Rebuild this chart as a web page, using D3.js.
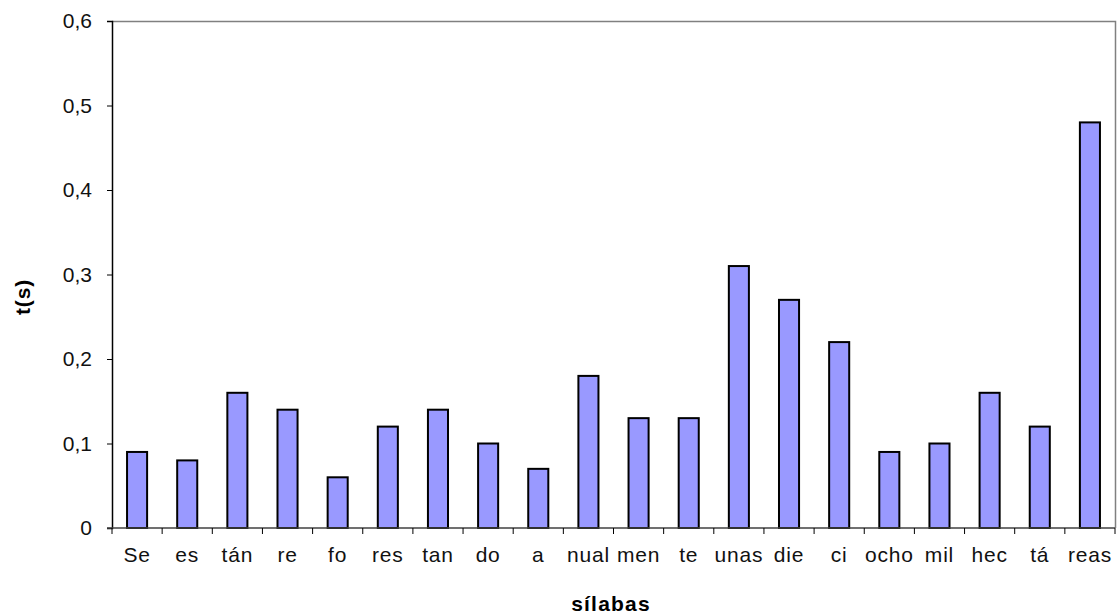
<!DOCTYPE html>
<html>
<head>
<meta charset="utf-8">
<script src="https://cdn.jsdelivr.net/npm/d3@7"></script>
<style>
  body { margin: 0; background: #fff; }
  text { font-family: "Liberation Sans", Arial, sans-serif; fill: #000; }
</style>
</head>
<body>
<svg id="chart" width="1117" height="614"></svg>
<script>
var silabas = ["Se", "es", "tán", "re", "fo", "res", "tan", "do", "a", "nual",
               "men", "te", "unas", "die", "ci", "ocho", "mil", "hec", "tá", "reas"];
var tiempos = [0.09, 0.08, 0.16, 0.14, 0.06, 0.12, 0.14, 0.10, 0.07, 0.18,
               0.13, 0.13, 0.31, 0.27, 0.22, 0.09, 0.10, 0.16, 0.12, 0.48];
var yTicks = [0, 0.1, 0.2, 0.3, 0.4, 0.5, 0.6];

var svg = d3.select("#chart"),
    margin = {top: 21, right: 2, bottom: 86, left: 112},
    width = +svg.attr("width") - margin.left - margin.right,
    height = +svg.attr("height") - margin.top - margin.bottom;

var x = d3.scaleBand()
    .domain(silabas)
    .range([0, width])
    .paddingInner(0.6)
    .paddingOuter(0.3);

var y = d3.scaleLinear()
    .domain([0, 0.6])
    .range([height, 0]);

var g = svg.append("g")
    .attr("transform", "translate(" + margin.left + "," + margin.top + ")");

// frame top + right
g.append("path")
    .attr("d", "M0,0.5H" + (width + 0.5) + "V" + height)
    .attr("fill", "none")
    .attr("stroke", "#808080")
    .attr("stroke-width", 1.5);

g.selectAll("rect.bar")
  .data(tiempos)
  .enter().append("rect")
    .attr("class", "bar")
    .attr("x", function(d, i) { return x(silabas[i]); })
    .attr("y", function(d) { return y(d); })
    .attr("width", x.bandwidth())
    .attr("height", function(d) { return height - y(d); })
    .attr("fill", "#9999ff")
    .attr("stroke", "#000")
    .attr("stroke-width", 2);

// y axis
var yAxis = g.append("g")
    .call(d3.axisLeft(y).tickValues(yTicks).tickSize(5).tickPadding(15)
      .tickFormat(function(d) { return d === 0 ? "0" : d3.format(".1f")(d).replace(".", ","); }));
yAxis.select(".domain").attr("stroke", "#000").attr("stroke-width", 1.5);
yAxis.selectAll(".tick line").attr("stroke", "#000");
yAxis.selectAll("text").style("font-size", "21px").style("fill", "#111");

// x axis: baseline + ticks at category boundaries
g.append("line")
    .attr("x1", -5).attr("x2", width)
    .attr("y1", height).attr("y2", height)
    .attr("stroke", "#404040").attr("stroke-width", 1.5);

var step = x.step();
g.selectAll("line.xtick")
  .data(d3.range(silabas.length + 1))
  .enter().append("line")
    .attr("class", "xtick")
    .attr("x1", function(i) { return x(silabas[0]) - x.step() * x.paddingOuter() + i * step; })
    .attr("x2", function(i) { return x(silabas[0]) - x.step() * x.paddingOuter() + i * step; })
    .attr("y1", height)
    .attr("y2", height + 6)
    .attr("stroke", "#000");

g.selectAll("text.xlab")
  .data(silabas)
  .enter().append("text")
    .attr("class", "xlab")
    .attr("x", function(d) { return x(d) + x.bandwidth() / 2; })
    .attr("y", height + 34)
    .attr("text-anchor", "middle")
    .style("font-size", "21px")
    .style("letter-spacing", "0.8px")
    .style("fill", "#111")
    .text(function(d) { return d; });

svg.append("text")
    .attr("transform", "translate(30," + 297 + ") rotate(-90)")
    .attr("text-anchor", "middle")
    .style("font-size", "21px")
    .style("font-weight", "bold")
    .style("letter-spacing", "0.8px")
    .text("t(s)");

svg.append("text")
    .attr("x", 611)
    .attr("y", 611)
    .attr("text-anchor", "middle")
    .style("font-size", "21px")
    .style("font-weight", "bold")
    .style("letter-spacing", "1.2px")
    .text("sílabas");
</script>
</body>
</html>
